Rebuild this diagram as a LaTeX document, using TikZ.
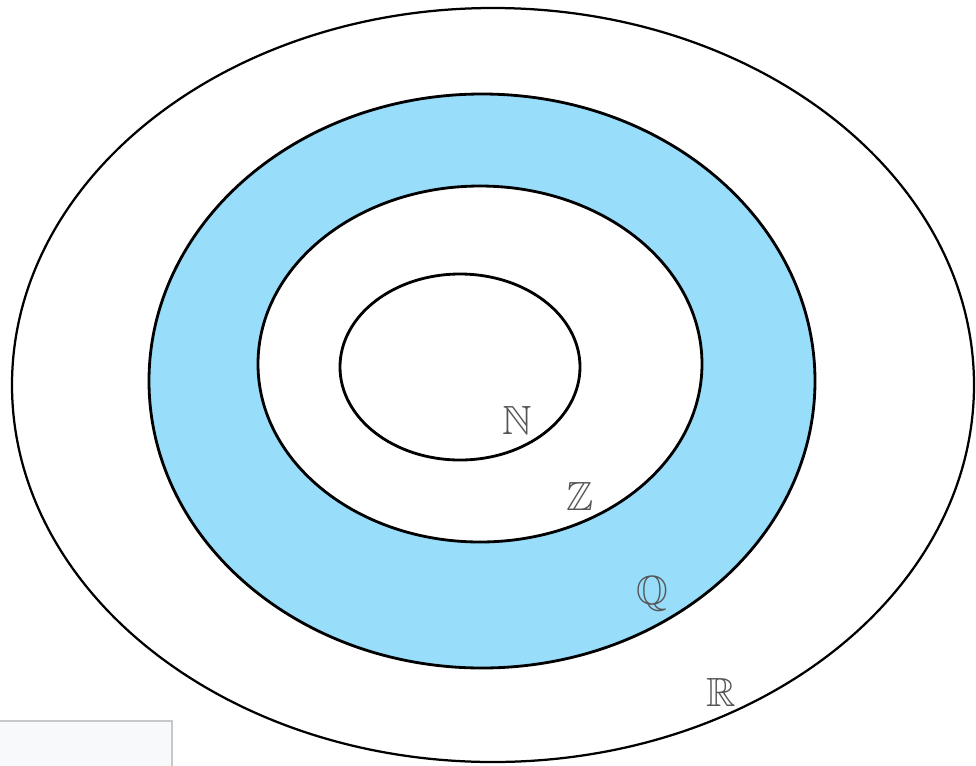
\documentclass[tikz,border=0pt]{standalone}
\usepackage{amsmath}
\usepackage{amssymb}
\usepackage{tikz}
\usepackage{xcolor}
\definecolor{setBlue}{RGB}{152,221,250}
\definecolor{setLabel}{RGB}{85,85,85}
\definecolor{boxEdge}{RGB}{200,200,200}
\definecolor{boxFill}{RGB}{248,249,251}
\tikzset{
    setRing/.style={draw=black, line width=1.6pt},
    setInner/.style={draw=black, line width=2pt},
    setLetter/.style={
        text=setLabel,
        font=\fontsize{29}{33}\selectfont,
        inner sep=0pt
    }
}

\begin{document}
\begin{tikzpicture}[x=0.025cm, y=-0.025cm]
    \useasboundingbox (0,0) rectangle (976,765);
    \clip (0,0) rectangle (976,765);

    % Rings, outside in
    \draw[setRing] (493,385) ellipse [x radius=481, y radius=377];
    \draw[setInner, fill=setBlue] (482,381) ellipse [x radius=333, y radius=287];
    \draw[setInner, fill=white] (480,364) ellipse [x radius=222, y radius=178];
    \draw[setInner] (460,367) ellipse [x radius=120, y radius=93];

    % Set names
    \node[setLetter] (natural) at (517,420) {$\mathbb{N}$};
    \node[setLetter] (integer) at (580,496) {$\mathbb{Z}$};
    \node[setLetter] (rational) at (652,594) {$\mathbb{Q}$};
    \node[setLetter] (real) at (721,692) {$\mathbb{R}$};

    % Box in the corner
    \draw[boxEdge, fill=boxFill, line width=1pt] (-5,721) rectangle (172,775);
\end{tikzpicture}
\end{document}
